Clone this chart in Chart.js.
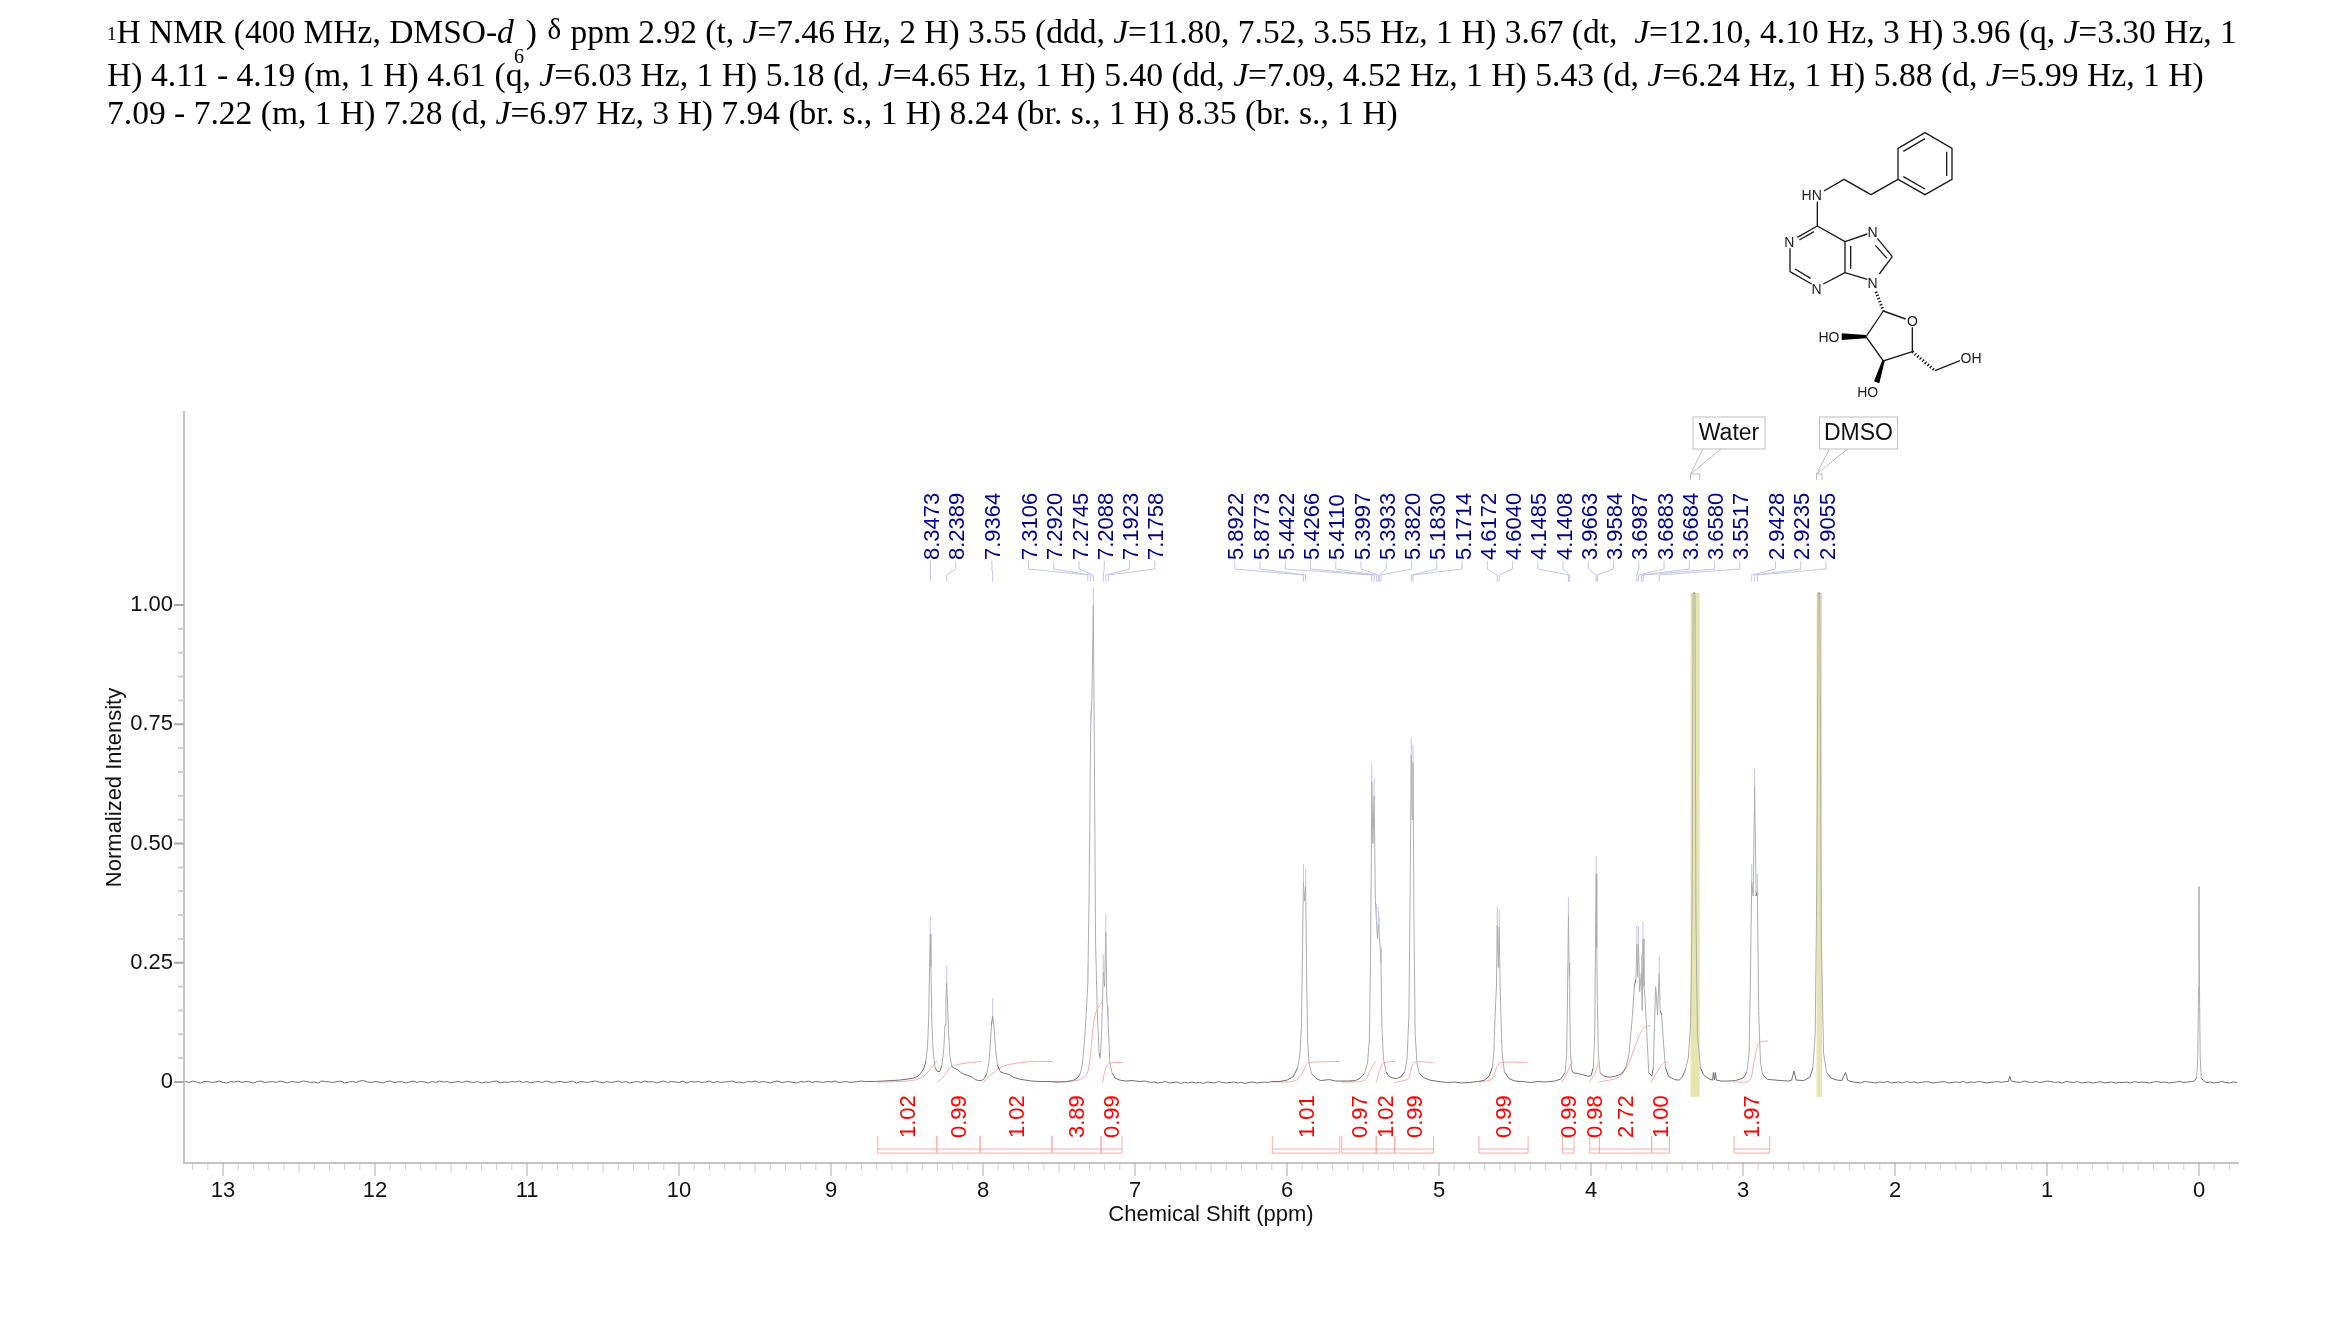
<!DOCTYPE html>
<html>
<head>
<meta charset="utf-8">
<title>1H NMR</title>
<script src="https://cdn.jsdelivr.net/npm/chart.js@4"></script>
<style>
  body { margin: 0; background: #fff; }
  #wrap { position: relative; width: 2339px; height: 1327px; overflow: hidden; }
  canvas { display: block; }
  .hdr { position: absolute; left: 107px; font: 33.5px/40px "Liberation Serif", serif; color: #000; white-space: nowrap; }
  .hdr .one { font-size: 19px; position: relative; top: -3px; }
  .hdr .gap { display: inline-block; width: 12px; }
  .hdr .delta { font-size: 29px; position: relative; top: -4px; margin: 0 1px 0 2px; }
  #six { position: absolute; left: 514px; top: 36px; font: 20px/40px "Liberation Serif", serif; }
  #mol { position: absolute; left: 1740px; top: 120px; }
  #mol line, #mol polyline { stroke: #1a1a1a; stroke-width: 4; fill: none; }
  #mol text { font: 42px "Liberation Sans", sans-serif; fill: #1a1a1a; text-anchor: middle; }
</style>
</head>
<body>
<div id="wrap">
  <canvas id="nmrChart" width="2339" height="1327"></canvas>

  <div class="hdr" style="top:12px"><span class="one">1</span>H NMR (400 MHz, DMSO-<i>d</i><span class="gap"></span>) <span class="delta">δ</span> ppm 2.92 (t, <i>J</i>=7.46 Hz, 2 H) 3.55 (ddd, <i>J</i>=11.80, 7.52, 3.55 Hz, 1 H) 3.67 (dt, &nbsp;<i>J</i>=12.10, 4.10 Hz, 3 H) 3.96 (q, <i>J</i>=3.30 Hz, 1</div>
  <div id="six">6</div>
  <div class="hdr" style="top:55px;font-size:33.65px">H) 4.11 - 4.19 (m, 1 H) 4.61 (q, <i>J</i>=6.03 Hz, 1 H) 5.18 (d, <i>J</i>=4.65 Hz, 1 H) 5.40 (dd, <i>J</i>=7.09, 4.52 Hz, 1 H) 5.43 (d, <i>J</i>=6.24 Hz, 1 H) 5.88 (d, <i>J</i>=5.99 Hz, 1 H)</div>
  <div class="hdr" style="top:93px;font-size:33.55px">7.09 - 7.22 (m, 1 H) 7.28 (d, <i>J</i>=6.97 Hz, 3 H) 7.94 (br. s., 1 H) 8.24 (br. s., 1 H) 8.35 (br. s., 1 H)</div>

  <!-- structure, coordinates are in 3x crop units -->
  <svg id="mol" width="280" height="290" viewBox="0 0 840 870">
    <polyline points="555,38 636,85 636,178 555,224 474,178 474,85 555,38"/>
    <line x1="490" y1="94" x2="555" y2="56"/><line x1="620" y1="95" x2="620" y2="168"/><line x1="490" y1="170" x2="555" y2="207"/>
    <polyline points="474,178 393,224 312,178 252,213"/>
    <line x1="232" y1="245" x2="232" y2="318"/>
    <line x1="232" y1="318" x2="172" y2="352"/><line x1="222" y1="335" x2="178" y2="360"/>
    <line x1="150" y1="385" x2="150" y2="455"/>
    <line x1="150" y1="455" x2="215" y2="492"/><line x1="165" y1="447" x2="212" y2="475"/>
    <line x1="250" y1="492" x2="315" y2="458"/>
    <line x1="315" y1="458" x2="315" y2="365"/><line x1="332" y1="447" x2="332" y2="378"/>
    <line x1="315" y1="365" x2="232" y2="318"/>
    <line x1="315" y1="365" x2="382" y2="342"/>
    <line x1="412" y1="355" x2="457" y2="410"/><line x1="406" y1="376" x2="441" y2="415"/>
    <line x1="457" y1="410" x2="418" y2="462"/>
    <line x1="315" y1="458" x2="382" y2="478"/>
    <line x1="430" y1="573" x2="497" y2="597"/>
    <line x1="517" y1="622" x2="517" y2="695"/>
    <polyline points="517,695 430,723 378,650 430,573"/>
    <polygon points="378,645 378,655 305,660 305,640" fill="#000"/>
    <polygon points="426,723 434,723 418,790 402,784" fill="#000"/>
    <line x1="408" y1="515" x2="430" y2="573" stroke-dasharray="4 6" style="stroke-width:9"/>
    <line x1="517" y1="695" x2="585" y2="752" stroke-dasharray="4 6" style="stroke-width:9"/>
    <line x1="585" y1="752" x2="660" y2="722"/>
    <text x="215" y="240">HN</text><text x="148" y="382">N</text><text x="230" y="523">N</text>
    <text x="398" y="352">N</text><text x="398" y="505">N</text><text x="517" y="618">O</text>
    <text x="267" y="667">HO</text><text x="383" y="832">HO</text><text x="693" y="729">OH</text>
  </svg>
</div>

<script>
// values
const xMin = -0.2566, xMax = 13.257;
const yMin = -0.1698, yMax = 1.4046;
const xTickValues = [0,1,2,3,4,5,6,7,8,9,10,11,12,13];
const yTickValues = [0,0.25,0.5,0.75,1];

// baseline noise in 1/1000 intensity, one reading every 0.025 ppm
const baselineFar = [1,-1,2,0,-2,1,1,-1,0,2,-1,-2,1,0,2,-1,1,0,-2,1,2,-1,0,1,-1,2,0,-2,1,0,
  -1,2,1,-1,0,-2,2,1,0,-1,1,2,-2,0,1,-1,2,3,0,-1,1,0,-2,1,2,-1,0,1,-2,0,
  2,-1,1,0,-2,1,-1,2,0,1,-2,0,1,-1,2,0,-1,1,-2,0,-1,1,2,-2,0,-1,1,0,2,-1,
  1,-2,0,1,-1,2,0,-2,1,1,-1,0,2,-2,1,0,-1,1,2,0,-2,1,-1,0,2,-1,1,-2,0,1,
  -1,2,0,1,-2,0,2,-1,1,0,-1,2,-2,1,0,1,-1,0,2,-2,1,-1,0,1,2,-1,0,-2,1,0,
  2,-1,1,0,-2,1,2,-1,0,1,-1,-2,1,0,2,-1,1,0,-1,1,0,2,-1,0,1,-1,0,1,2];
const baselineGap = [-1,0,-2,-1,1,-2,-1,0,-3,-1,-2,0,-2,-1,-3,0,-1,-2,1,-1,-2,-1,0,-2,-1,-3,-1,0,-2,-1,0,-1,1];
const baselineHighA = [0,-1,-2,1,0,-1,-2,0,-1,1,-2,-1,0,-2,1,-1,0,-2,-1,1,0,-2,-1,0,1,-2,-1,0,-1,1,-2,0,-1,1,0,-2,-1,0,1,-1,1];
const baselineHighB = [1,0,-1,2,0,-1,1,-1,0,2,1,-1,0,-2,1,0,-1,1,-2,-1,0,-2,-1,1,-2,-1,0,-2,-1,-1,0,-2,1,-1,0,-1,-2,0,1,-1,0,-2,-1,0,1,-1,0,1];
const baselineEnd = [-1,0,-2,-1,1,-1,-2,0,-1];

// [ppm, intensity] outline of the peak regions
const spectrumAromatic = [[8.78,.001],[8.72,.001],[8.66,.002],[8.6,.003],[8.55,.004],[8.5,.006],[8.46,.008],[8.43,.012],[8.41,.018],[8.39,.028],
  [8.375,.045],[8.365,.075],[8.358,.13],[8.352,.24],[8.3473,.31],[8.343,.24],[8.337,.13],[8.328,.06],[8.315,.03],[8.3,.022],[8.285,.022],
  [8.27,.035],[8.258,.07],[8.25,.12],[8.244,.18],[8.2389,.208],[8.234,.17],[8.228,.11],[8.218,.055],[8.205,.032],[8.17,.026],[8.15,.021],[8.125,.016],
  [8.1,.014],[8.07,.01],[8.05,.005],[8.03,.003],[8.01,.003],[7.99,.008],[7.975,.018],[7.962,.04],[7.952,.08],[7.944,.12],[7.9364,.138],[7.928,.115],
  [7.918,.07],[7.905,.035],[7.885,.021],[7.86,.018],[7.83,.016],[7.8,.01],[7.76,.006],[7.72,.004],[7.68,.002],[7.62,.001],[7.56,.001],[7.5,0],
  [7.45,.001],[7.41,.003],[7.38,.008],[7.36,.018],[7.345,.04],[7.332,.09],[7.32,.15],[7.3106,.207],[7.302,.4],[7.292,.74],[7.284,.8],[7.2745,1],
  [7.268,.72],[7.26,.3],[7.248,.14],[7.236,.06],[7.228,.05],[7.22,.1],[7.2088,.23],[7.2,.2],[7.1923,.315],[7.186,.18],[7.1758,.12],[7.166,.04],
  [7.15,.018],[7.13,.008],[7.1,.004],[7.06,.002],[7.02,.003],[6.97,.001],[6.93,.002]];
const spectrumRibose = [[6.05,.001],[6,.004],[5.96,.011],[5.93,.03],[5.915,.06],[5.905,.12],[5.898,.28],[5.8922,.42],[5.885,.38],[5.8773,.41],[5.872,.25],
  [5.865,.09],[5.855,.04],[5.84,.018],[5.81,.008],[5.78,.003],[5.72,.005],[5.68,.002],[5.6,.002],[5.55,.003],[5.52,.008],[5.49,.018],[5.47,.04],[5.458,.09],[5.45,.28],
  [5.4422,.63],[5.435,.5],[5.4266,.6],[5.419,.38],[5.411,.336],[5.405,.3],[5.3997,.33],[5.3933,.31],[5.387,.28],[5.382,.25],[5.376,.12],
  [5.366,.05],[5.35,.022],[5.33,.012],[5.31,.009],[5.28,.007],[5.25,.011],[5.225,.022],[5.21,.05],[5.198,.14],[5.19,.4],[5.183,.685],[5.177,.55],[5.1714,.67],
  [5.165,.35],[5.157,.1],[5.145,.04],[5.13,.018],[5.1,.009],[5.06,.004],[5,.001],[4.95,-.001],[4.9,0],[4.85,-.002],[4.8,-.001],[4.74,.001],[4.7,.004],
  [4.67,.013],[4.65,.03],[4.64,.06],[4.632,.13],[4.627,.17],[4.622,.2],[4.6172,.33],[4.61,.24],[4.604,.325],[4.598,.2],[4.592,.13],[4.585,.06],[4.57,.022],
  [4.54,.007],[4.5,.002],[4.45,.001],[4.4,-.001],[4.35,.001],[4.3,0],[4.24,.002],[4.2,.006],[4.17,.02],[4.16,.06],[4.154,.2],[4.1485,.35],
  [4.1445,.25],[4.1408,.185],[4.136,.07],[4.127,.025],[4.115,.019],[4.09,.018],[4.05,.015],[4.02,.012],[4,.013],[3.985,.03],[3.976,.1],[3.971,.28],
  [3.9663,.437],[3.962,.28],[3.9584,.17],[3.952,.06],[3.94,.02],[3.92,.013],[3.88,.01],[3.84,.012],[3.8,.017],[3.77,.03],[3.75,.06],
  [3.73,.13],[3.715,.2],[3.705,.215],[3.6987,.29],[3.693,.22],[3.6883,.29],[3.68,.19],[3.6684,.23],[3.663,.15],[3.658,.3],[3.652,.2],
  [3.645,.18],[3.635,.116],[3.62,.02],[3.6,.012],[3.59,.03],[3.582,.12],[3.575,.2],[3.57,.18],[3.5625,.14],[3.5517,.228],[3.545,.15],
  [3.535,.14],[3.525,.09],[3.51,.03],[3.49,.012],[3.45,.005],[3.42,.004],[3.4,.01],[3.38,.025],[3.36,.05],[3.345,.12],[3.335,.35],
  [3.328,1.025],[3.316,1.025],[3.31,.35],[3.3,.1],[3.28,.03],[3.26,.015],[3.24,.01],[3.22,.006],[3.2,.004],[3.195,.02],[3.188,.004],
  [3.182,.02],[3.175,.004],[3.14,.002],[3.1,.002],[3.05,.003],[3,.008],[2.975,.02],[2.96,.06],[2.952,.2],[2.9428,.42],[2.933,.39],[2.9235,.62],
  [2.914,.39],[2.9055,.4],[2.897,.15],[2.885,.04],[2.87,.015],[2.84,.006],[2.82,.005],[2.75,.003],[2.7,.002],[2.68,.004],[2.665,.023],[2.65,.004],
  [2.6,.003],[2.56,.01],[2.54,.03],[2.525,.1],[2.515,.4],[2.505,1.025],[2.495,1.025],[2.485,.3],[2.47,.06],[2.45,.02],[2.42,.008],
  [2.38,.004],[2.35,.003],[2.326,.02],[2.31,.003],[2.29,.001]];
const spectrumTiny = [[1.255,.001],[1.245,.012],[1.235,.002]];
const spectrumTms = [[.03,.002],[.015,.01],[.008,.05],[.003,.2],[0,.41],[-.003,.2],[-.008,.05],[-.015,.008],[-.03,.003]];

// picked peaks and their apex heights
const pickShifts = [8.3473,8.2389,7.9364,7.3106,7.2920,7.2745,7.2088,7.1923,7.1758,5.8922,5.8773,5.4422,5.4266,5.4110,5.3997,5.3933,5.3820,
  5.1830,5.1714,4.6172,4.6040,4.1485,4.1408,3.9663,3.9584,3.6987,3.6883,3.6684,3.6580,3.5517,2.9428,2.9235,2.9055];
const pickApex = [.31,.208,.138,.207,.74,1,.23,.315,.12,.42,.41,.63,.6,.336,.33,.31,.25,.685,.67,.33,.325,.35,.185,.437,.17,.29,.29,.23,.3,.228,.42,.62,.4];

// integrals
const integralRanges = [[8.693,8.304],[8.304,8.02],[8.02,7.546],[7.546,7.224],[7.224,7.086],[6.097,5.653],[5.64,5.413],[5.413,5.291],[5.291,5.036],
  [4.738,4.414],[4.188,4.112],[4.008,3.945],[3.945,3.601],[3.601,3.484],[3.059,2.824]];
const integralValues = ['1.02','0.99','1.02','3.89','0.99','1.01','0.97','1.02','0.99','0.99','0.99','0.98','2.72','1.00','1.97'];
const integralCurves = [
  [[8.693,0],[8.55,.001],[8.45,.004],[8.4,.01],[8.37,.018],[8.35,.026],[8.335,.032],[8.304,.044]],
  [[8.3,-.001],[8.25,.015],[8.21,.032],[8.125,.039],[8.012,.043]],
  [[8,-.001],[7.937,.018],[7.875,.032],[7.79,.039],[7.665,.043],[7.54,.043]],
  [[7.54,-.001],[7.372,.004],[7.32,.015],[7.297,.046],[7.28,.102],[7.26,.144],[7.218,.168]],
  [[7.213,-.001],[7.197,.025],[7.17,.039],[7.08,.041]],
  [[6.096,0],[5.95,.002],[5.9,.018],[5.875,.036],[5.854,.041],[5.657,.043]],
  [[5.64,0],[5.49,.003],[5.456,.022],[5.427,.039],[5.414,.042]],
  [[5.414,-.001],[5.385,.029],[5.364,.04],[5.293,.043]],
  [[5.293,-.001],[5.205,.006],[5.184,.025],[5.163,.041],[5.038,.041]],
  [[4.741,0],[4.653,.006],[4.619,.032],[4.59,.041],[4.418,.041]],
  [[4.192,-.001],[4.159,.018],[4.13,.039],[4.117,.043]],
  [[4.013,-.001],[3.975,.018],[3.95,.041]],
  [[3.95,0],[3.816,.01],[3.753,.039],[3.69,.092],[3.649,.115],[3.607,.118]],
  [[3.607,-.001],[3.544,.032],[3.515,.041],[3.49,.042]],
  [[3.067,0],[2.958,.003],[2.929,.039],[2.895,.082],[2.833,.086]]
];

// solvent bands
const solventNames = ['Water','DMSO'];
const solventRanges = [[3.345,3.285],[2.516,2.48]];

function toPoints(pairs) {
  return pairs.map(p => ({ x: p[0], y: p[1] }));
}
function gridRun(start, readings) {
  return readings.map((v, i) => ({ x: start - i * 0.025, y: v / 1000 }));
}

const spectrum = [
  ...gridRun(13.25, baselineFar),
  ...toPoints(spectrumAromatic),
  ...gridRun(6.9, baselineGap),
  ...toPoints(spectrumRibose),
  ...gridRun(2.275, baselineHighA),
  ...toPoints(spectrumTiny),
  ...gridRun(1.225, baselineHighB),
  ...toPoints(spectrumTms),
  ...gridRun(-0.05, baselineEnd)
];

const labelFont = '22px "Liberation Sans", Arial, sans-serif';
const pickColor = '#00008b';
const pickLine = '#c3c6e6';
const integralColor = '#ffa9a9';

// label spacing of the peak list: runs of evenly spaced labels
const labelRuns = [{ start: 933, count: 2 }, { start: 994.4, count: 1 }, { start: 1031, count: 6 }, { start: 1237.3, count: 21 }, { start: 1778, count: 3 }];
const labelStep = 25.25;

function rotatedText(ctx, text, x, y, color) {
  ctx.save();
  ctx.translate(x, y);
  ctx.rotate(-Math.PI / 2);
  ctx.font = labelFont;
  ctx.fillStyle = color;
  ctx.textAlign = 'left';
  ctx.textBaseline = 'middle';
  ctx.fillText(text, 0, 0);
  ctx.restore();
}

const bandsPlugin = {
  id: 'bands',
  beforeDatasetsDraw(chart) {
    const { ctx, scales: { x, y } } = chart;
    ctx.save();
    ctx.fillStyle = '#e6e5b0';
    solventRanges.forEach(r => {
      const left = x.getPixelForValue(r[0]);
      const right = x.getPixelForValue(r[1]);
      ctx.fillRect(left, y.getPixelForValue(1.0255), right - left, y.getPixelForValue(-0.031) - y.getPixelForValue(1.0255));
    });
    ctx.restore();
  }
};

const notesPlugin = {
  id: 'notes',
  afterDraw(chart) {
    const { ctx, scales: { x, y } } = chart;
    ctx.save();
    ctx.lineWidth = 1;

    // axis ticks
    for (let i = -2; i <= 132; i++) {
      const v = i / 10;
      const px = x.getPixelForValue(v);
      const big = i % 10 === 0;
      const mid = i % 5 === 0;
      ctx.strokeStyle = big ? '#a8a8a8' : '#cfcfcf';
      ctx.beginPath();
      ctx.moveTo(px, y.bottom);
      ctx.lineTo(px, y.bottom + (big ? 13 : mid ? 10 : 7));
      ctx.stroke();
    }
    for (let i = 0; i <= 20; i++) {
      const py = y.getPixelForValue(i / 20);
      ctx.strokeStyle = i % 5 === 0 ? '#a8a8a8' : '#cfcfcf';
      ctx.lineWidth = 2;
      ctx.beginPath();
      ctx.moveTo(x.left - (i % 5 === 0 ? 10 : 6), py);
      ctx.lineTo(x.left, py);
      ctx.stroke();
    }
    ctx.lineWidth = 1;

    // peak picks
    let n = 0;
    labelRuns.forEach(run => {
      for (let k = 0; k < run.count; k++, n++) {
        const lx = run.start + k * labelStep;
        const px = x.getPixelForValue(pickShifts[n]);
        ctx.strokeStyle = pickLine;
        ctx.beginPath();
        ctx.moveTo(lx - 2.5, 561);
        ctx.lineTo(lx - 2.5, 569);
        ctx.lineTo(px, 575);
        ctx.lineTo(px, 581.7);
        ctx.stroke();
        ctx.beginPath();
        ctx.moveTo(px, y.getPixelForValue(pickApex[n]));
        ctx.lineTo(px, y.getPixelForValue(pickApex[n] + 0.037));
        ctx.stroke();
        rotatedText(ctx, pickShifts[n].toFixed(4), lx, 560, pickColor);
      }
    });

    // integral brackets
    ctx.strokeStyle = integralColor;
    integralRanges.forEach((r, i) => {
      const a = x.getPixelForValue(r[0]);
      const b = x.getPixelForValue(r[1]);
      const top = y.getPixelForValue(-0.113);
      const low = y.getPixelForValue(-0.149);
      const mid = y.getPixelForValue(-0.1405);
      ctx.beginPath();
      ctx.moveTo(a, top); ctx.lineTo(a, low); ctx.lineTo(b, low); ctx.lineTo(b, top);
      ctx.moveTo(a, mid); ctx.lineTo(b, mid);
      ctx.stroke();
      rotatedText(ctx, integralValues[i], (a + b) / 2 + 1.5, 1138, '#ff0000');
    });

    // solvent callouts
    const boxes = [{ l: 1693, r: 1765 }, { l: 1819.5, r: 1897.5 }];
    ctx.font = '23px "Liberation Sans", Arial, sans-serif';
    solventNames.forEach((name, i) => {
      const left = x.getPixelForValue(solventRanges[i][0]);
      const right = x.getPixelForValue(solventRanges[i][1]);
      const b = boxes[i];
      ctx.strokeStyle = '#bdbdbd';
      ctx.beginPath();
      ctx.moveTo(left, 480); ctx.lineTo(left, 474); ctx.lineTo(right, 474); ctx.lineTo(right, 480);
      ctx.moveTo(b.l + 10, 449); ctx.lineTo(left, 474); ctx.lineTo(b.l + 28, 449);
      ctx.stroke();
      ctx.strokeRect(b.l, 417, b.r - b.l, 32);
      ctx.fillStyle = '#111';
      ctx.textAlign = 'center';
      ctx.textBaseline = 'middle';
      ctx.fillText(name, (b.l + b.r) / 2, 434);
    });
    ctx.restore();
  }
};

const integralSets = integralCurves.map((c, i) => ({
  label: 'integral ' + integralValues[i],
  data: toPoints(c),
  borderColor: integralColor,
  borderWidth: 1,
  pointRadius: 0,
  showLine: true,
  tension: 0.3
}));

new Chart(document.getElementById('nmrChart'), {
  type: 'scatter',
  data: {
    datasets: [{
      label: 'Spectrum',
      data: spectrum,
      borderColor: '#6e6e6e',
      borderWidth: 1,
      pointRadius: 0,
      showLine: true,
      tension: 0,
      // steep flanks come out lighter than the noisy baseline
      segment: {
        borderColor: c => (Math.abs(c.p1.parsed.y - c.p0.parsed.y) > 0.02 ? '#adadad' : undefined)
      }
    }, ...integralSets]
  },
  options: {
    responsive: false,
    animation: false,
    layout: { padding: { left: 102, right: 101, top: 412, bottom: 64 } },
    plugins: { legend: { display: false }, tooltip: { enabled: false }, title: { display: false } },
    scales: {
      x: {
        type: 'linear',
        reverse: true,
        min: xMin,
        max: xMax,
        afterFit: s => { s.height = 100; },
        afterBuildTicks: s => { s.ticks = xTickValues.map(v => ({ value: v })); },
        grid: { display: true, drawOnChartArea: false, drawTicks: false, color: 'transparent' },
        border: { display: true, color: '#c4c4c4', width: 2 },
        ticks: { autoSkip: false, maxRotation: 0, padding: 15, color: '#111', font: { family: '"Liberation Sans"', size: 22 } },
        title: { display: true, text: 'Chemical Shift (ppm)', color: '#111', padding: { top: 35, bottom: 35 }, font: { family: '"Liberation Sans"', size: 22 } }
      },
      y: {
        min: yMin,
        max: yMax,
        afterFit: s => { s.width = 82; },
        afterBuildTicks: s => { s.ticks = yTickValues.map(v => ({ value: v })); },
        grid: { display: true, drawOnChartArea: false, drawTicks: false, color: 'transparent' },
        border: { display: true, color: '#c4c4c4', width: 2 },
        ticks: {
          autoSkip: false,
          padding: 11,
          color: '#111',
          font: { family: '"Liberation Sans"', size: 22 },
          callback: v => (v === 0 ? '0' : v.toFixed(2))
        },
        title: { display: true, text: 'Normalized Intensity', color: '#111', padding: 0, font: { family: '"Liberation Sans"', size: 22 } }
      }
    }
  },
  plugins: [bandsPlugin, notesPlugin]
});
</script>
</body>
</html>
